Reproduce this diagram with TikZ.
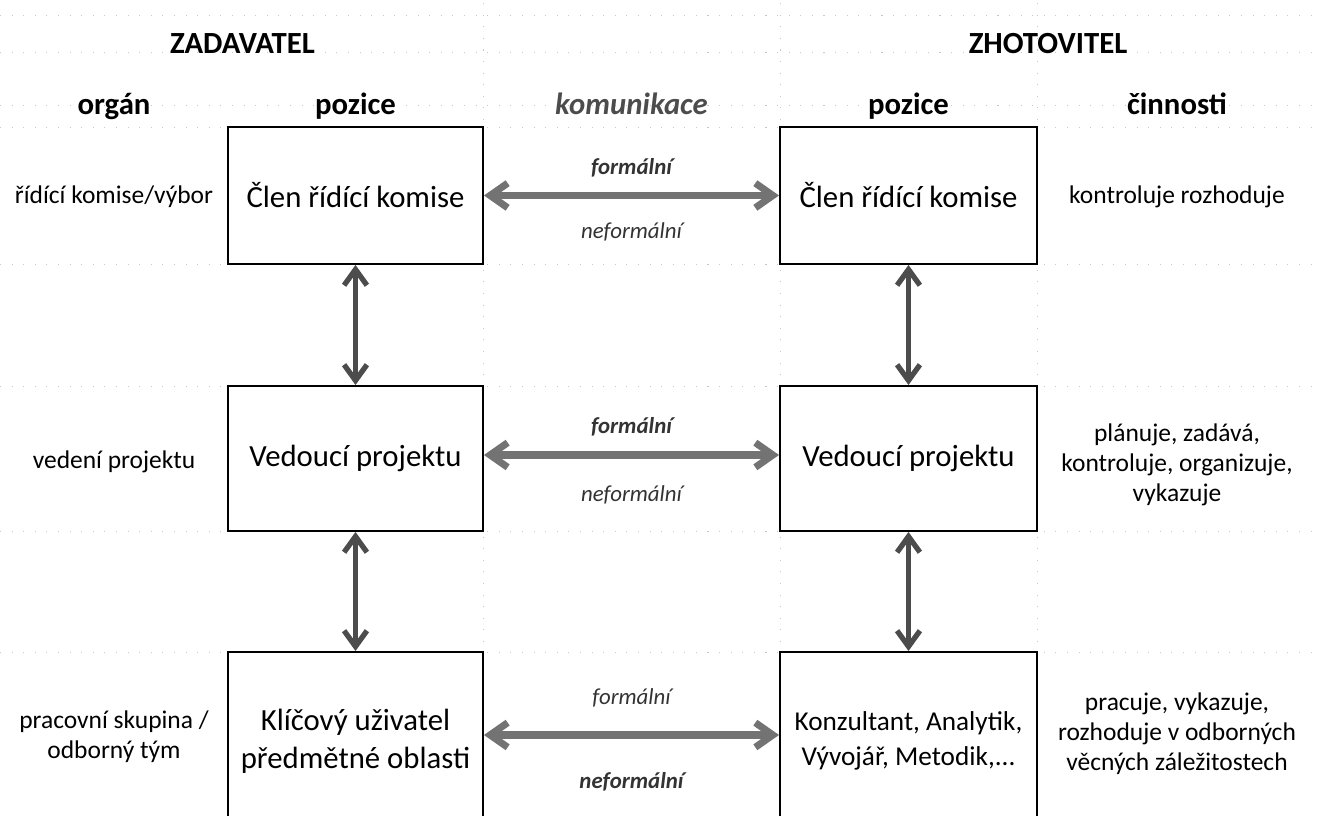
\documentclass[tikz,border=0pt]{standalone}
\usepackage{fontspec}
\setmainfont{Carlito}
\usetikzlibrary{arrows.meta}

\begin{document}
\begin{tikzpicture}[
        thick,
        box/.style={draw, line width=1.1pt, inner sep=0pt, align=center,
            font=\fontsize{17.5}{21.5}\selectfont},
        head/.style={anchor=base, font=\fontsize{17.5}{21}\selectfont\bfseries},
        side/.style={align=center, font=\fontsize{14.5}{17}\selectfont},
        komu/.style={text=black!80, font=\fontsize{13}{15}\selectfont\itshape},
        harrow/.style={black!55, line width=4pt,
            {Straight Barb[length=10pt,width=14pt]}-{Straight Barb[length=10pt,width=14pt]}},
        varrow/.style={black!70, line width=3pt,
            {Straight Barb[length=9pt,width=13pt]}-{Straight Barb[length=9pt,width=13pt]}},
        grid/.style={gray!45, line width=0.5pt, dash pattern=on 0.6pt off 6pt}
    ]

        \useasboundingbox (0,0) rectangle (26.34,16.32);
        \clip (0,0) rectangle (26.34,16.32);

        % Tečkovaná mřížka tabulky
        \foreach \y in {16.02, 15.28, 14.22, 13.78, 11.04, 8.60, 5.70, 3.28}
            \draw[grid] (0,\y) -- (26.34,\y);
        \foreach \x in {9.66, 15.60, 20.74}
            \draw[grid] (\x,0) -- (\x,16.32);

        % Záhlaví
        \node[head] (zad) at (4.85,15.24) {ZADAVATEL};
        \node[head] (zho) at (20.96,15.24) {ZHOTOVITEL};

        \node[head] (organ) at (2.28,14.02) {orgán};
        \node[head] (pozz) at (7.11,14.02) {pozice};
        \node[head, text=black!70, font=\fontsize{17.5}{21}\selectfont\bfseries\itshape]
            (komunikace) at (12.63,14.02) {komunikace};
        \node[head] (pozh) at (18.17,14.02) {pozice};
        \node[head] (cin) at (23.54,14.02) {činnosti};

        % Pozice zadavatele
        \node[box, minimum width=5.10cm, minimum height=2.74cm] (z1) at (7.11,12.41)
            {Člen řídící komise};
        \node[box, minimum width=5.10cm, minimum height=2.90cm] (z2) at (7.11,7.15)
            {Vedoucí projektu};
        \node[box, minimum width=5.10cm, minimum height=3.56cm] (z3) at (7.11,1.50)
            {Klíčový uživatel\\předmětné oblasti};

        % Pozice zhotovitele
        \node[box, minimum width=5.14cm, minimum height=2.74cm] (h1) at (18.17,12.41)
            {Člen řídící komise};
        \node[box, minimum width=5.14cm, minimum height=2.90cm] (h2) at (18.17,7.15)
            {Vedoucí projektu};
        \node[box, minimum width=5.14cm, minimum height=3.56cm,
            font=\fontsize{15.5}{19.5}\selectfont] (h3) at (18.17,1.50)
            {Konzultant, Analytik,\\Vývojář, Metodik,...};

        % Orgány
        \node[side] (o1) at (2.28,12.38) {řídící komise/výbor};
        \node[side] (o2) at (2.28,7.08) {vedení projektu};
        \node[side] (o3) at (2.28,1.58) {pracovní skupina /\\odborný tým};

        % Činnosti
        \node[side] (c1) at (23.54,12.38) {kontroluje rozhoduje};
        \node[side] (c2) at (23.54,7.02) {plánuje, zadává,\\kontroluje, organizuje,\\vykazuje};
        \node[side] (c3) at (23.54,1.64) {pracuje, vykazuje,\\rozhoduje v odborných\\věcných záležitostech};

        % Komunikace
        \draw[harrow] (z1.east) -- (h1.west)
            node[komu, midway, yshift=0.56cm, font=\fontsize{13}{15}\selectfont\bfseries\itshape] {formální}
            node[komu, midway, yshift=-0.72cm] {neformální};
        \draw[harrow] ([yshift=0.07cm]z2.east) -- ([yshift=0.07cm]h2.west)
            node[komu, midway, yshift=0.56cm, font=\fontsize{13}{15}\selectfont\bfseries\itshape] {formální}
            node[komu, midway, yshift=-0.80cm] {neformální};
        \draw[harrow] ([yshift=0.12cm]z3.east) -- ([yshift=0.12cm]h3.west)
            node[komu, midway, yshift=0.74cm] {formální}
            node[komu, midway, yshift=-0.94cm, font=\fontsize{13}{15}\selectfont\bfseries\itshape] {neformální};

        % Vazby mezi pozicemi
        \draw[varrow] (z1) -- (z2);
        \draw[varrow] (z2) -- (z3);
        \draw[varrow] (h1) -- (h2);
        \draw[varrow] (h2) -- (h3);

    \end{tikzpicture}
\end{document}
